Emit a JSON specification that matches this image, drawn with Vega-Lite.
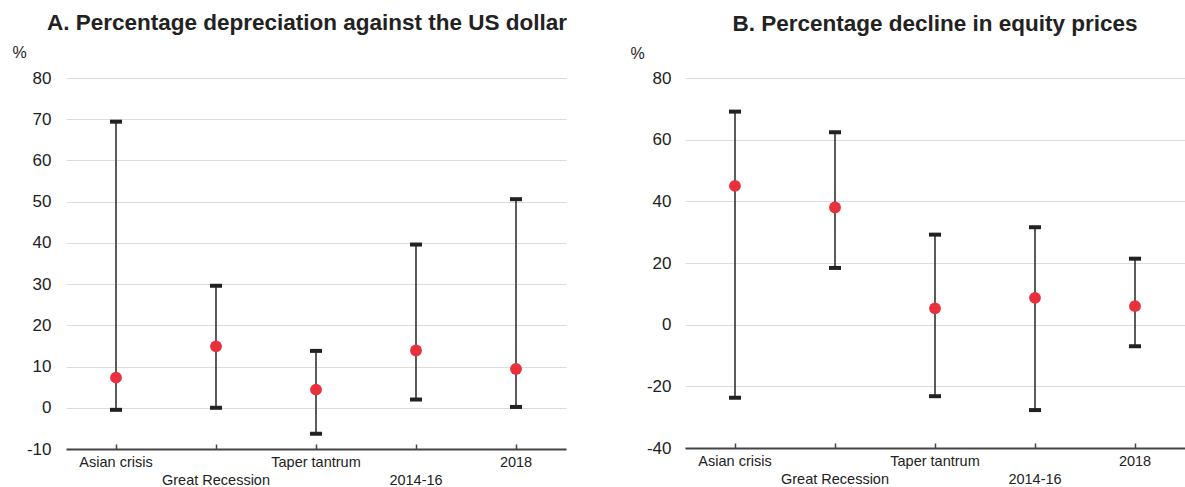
{
  "$schema": "https://vega.github.io/schema/vega-lite/v6.json",
  "background": "white",
  "padding": {"left": 12, "top": 11, "right": 0, "bottom": 0},
  "bounds": "flush",
  "spacing": 119,
  "config": {
    "view": {"stroke": null},
    "font": "Liberation Sans",
    "title": {"font": "Liberation Sans", "fontSize": 22.5, "fontWeight": "bold", "color": "#222222", "anchor": "middle", "offset": 10},
    "axis": {"labelFont": "Liberation Sans", "titleFont": "Liberation Sans", "labelColor": "#222222", "titleColor": "#222222"}
  },
  "datasets": {
    "fx": [
      {"event": "Asian crisis", "low": -0.5, "high": 69.4, "point": 7.3},
      {"event": "Great Recession", "low": 0.0, "high": 29.6, "point": 14.9},
      {"event": "Taper tantrum", "low": -6.3, "high": 13.8, "point": 4.4},
      {"event": "2014-16", "low": 2.0, "high": 39.6, "point": 13.9},
      {"event": "2018", "low": 0.2, "high": 50.6, "point": 9.4}
    ],
    "eq": [
      {"event": "Asian crisis", "low": -23.7, "high": 69.1, "point": 45.0},
      {"event": "Great Recession", "low": 18.4, "high": 62.4, "point": 38.0},
      {"event": "Taper tantrum", "low": -23.2, "high": 29.2, "point": 5.3},
      {"event": "2014-16", "low": -27.7, "high": 31.6, "point": 8.7},
      {"event": "2018", "low": -7.0, "high": 21.4, "point": 6.0}
    ]
  },
  "hconcat": [
    {
      "width": 500,
      "height": 371,
      "title": {"text": "A. Percentage depreciation against the US dollar", "dx": -9},
      "data": {"name": "fx"},
      "encoding": {
        "x": {
          "field": "event", "type": "nominal", "sort": null,
          "scale": {"paddingInner": 0, "paddingOuter": 0},
          "axis": {
            "title": null, "labelAngle": 0, "labelFontSize": 14.5, "labelPadding": 11,
            "labelExpr": "indexof(['Great Recession','2014-16'], datum.label) >= 0 ? ['', datum.label] : datum.label",
            "labelLineHeight": 18,
            "domainColor": "#444444", "domainWidth": 2, "tickColor": "#444444", "tickWidth": 1.5, "tickSize": -5,
            "grid": false
          }
        }
      },
      "layer": [
        {
          "mark": {"type": "rule", "color": "#333333", "strokeWidth": 1.6},
          "encoding": {
            "y": {"field": "low", "type": "quantitative",
              "scale": {"domain": [-10, 80], "nice": false},
              "axis": {"title": "%", "titleAngle": 0, "titleX": -54, "titleY": -26, "titleAlign": "left", "titleBaseline": "middle", "titleFontSize": 16, "titleFontWeight": "normal",
                "values": [-10, 0, 10, 20, 30, 40, 50, 60, 70, 80], "labelExpr": "datum.value + ''", "labelFontSize": 17, "labelPadding": 15,
                "domain": false, "ticks": false, "gridColor": "#dcdcdc", "gridWidth": 1.2}},
            "y2": {"field": "high"}
          }
        },
        {
          "mark": {"type": "tick", "color": "#222222", "opacity": 1, "thickness": 4, "size": 12},
          "encoding": {"y": {"field": "low", "type": "quantitative"}}
        },
        {
          "mark": {"type": "tick", "color": "#222222", "opacity": 1, "thickness": 4, "size": 12},
          "encoding": {"y": {"field": "high", "type": "quantitative"}}
        },
        {
          "mark": {"type": "circle", "color": "#e8313d", "opacity": 1, "size": 140},
          "encoding": {"y": {"field": "point", "type": "quantitative"}}
        }
      ]
    },
    {
      "width": 500,
      "height": 370,
      "title": "B. Percentage decline in equity prices",
      "data": {"name": "eq"},
      "encoding": {
        "x": {
          "field": "event", "type": "nominal", "sort": null,
          "scale": {"paddingInner": 0, "paddingOuter": 0},
          "axis": {
            "title": null, "labelAngle": 0, "labelFontSize": 14.5, "labelPadding": 11,
            "labelExpr": "indexof(['Great Recession','2014-16'], datum.label) >= 0 ? ['', datum.label] : datum.label",
            "labelLineHeight": 18,
            "domainColor": "#444444", "domainWidth": 2, "tickColor": "#444444", "tickWidth": 1.5, "tickSize": -5,
            "grid": false
          }
        }
      },
      "layer": [
        {
          "mark": {"type": "rule", "color": "#333333", "strokeWidth": 1.6},
          "encoding": {
            "y": {"field": "low", "type": "quantitative",
              "scale": {"domain": [-40, 80], "nice": false},
              "axis": {"title": "%", "titleAngle": 0, "titleX": -55, "titleY": -25, "titleAlign": "left", "titleBaseline": "middle", "titleFontSize": 16, "titleFontWeight": "normal",
                "values": [-40, -20, 0, 20, 40, 60, 80], "labelExpr": "datum.value + ''", "labelFontSize": 17, "labelPadding": 14,
                "domain": false, "ticks": false, "gridColor": "#dcdcdc", "gridWidth": 1.2}},
            "y2": {"field": "high"}
          }
        },
        {
          "mark": {"type": "tick", "color": "#222222", "opacity": 1, "thickness": 4, "size": 12},
          "encoding": {"y": {"field": "low", "type": "quantitative"}}
        },
        {
          "mark": {"type": "tick", "color": "#222222", "opacity": 1, "thickness": 4, "size": 12},
          "encoding": {"y": {"field": "high", "type": "quantitative"}}
        },
        {
          "mark": {"type": "circle", "color": "#e8313d", "opacity": 1, "size": 140},
          "encoding": {"y": {"field": "point", "type": "quantitative"}}
        }
      ]
    }
  ]
}
